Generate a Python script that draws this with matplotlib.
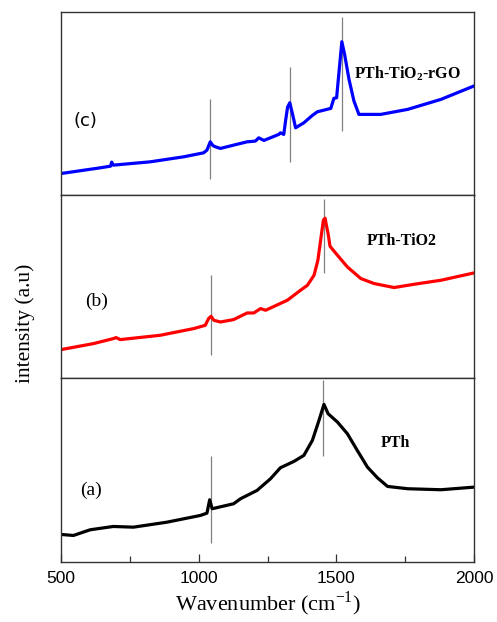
import matplotlib
matplotlib.use("Agg")
import matplotlib.pyplot as plt

plt.rcParams['mathtext.fontset'] = 'custom'
plt.rcParams['mathtext.rm'] = 'Liberation Serif:bold'
plt.rcParams['mathtext.bf'] = 'Liberation Serif:bold'

# Wavenumber (cm-1) and intensity (a.u.) for each spectrum
wn_c = [502, 642, 680, 684, 690, 824, 945, 1018, 1030, 1042, 1052, 1061, 1079, 1127, 1176, 1206,
        1218, 1237, 1291, 1297, 1309, 1316, 1323, 1331, 1344, 1352, 1382, 1413, 1431, 1480, 1491,
        1501, 1510, 1520, 1530, 1546, 1564, 1582, 1661, 1759, 1880, 1999]
int_c = [21.7, 27.3, 29, 33, 30, 33.3, 38.3, 42.3, 45, 53.3, 49.5, 48.3, 46.7, 50, 53.3, 54,
         57.3, 54.7, 60.7, 62.3, 60.7, 75, 88, 92.3, 77.3, 67.3, 72.3, 79.7, 83.3, 86.7, 96.7,
         97.3, 124, 153.3, 140.7, 115.7, 94, 80.7, 80.7, 85.7, 95.7, 109]

wn_b = [500, 618, 690, 700, 715, 860, 982, 1024, 1036, 1045, 1055, 1079, 1127, 1176, 1200, 1225,
        1243, 1322, 1346, 1370, 1395, 1419, 1433, 1443, 1453, 1459, 1466, 1470, 1477, 1504, 1540,
        1589, 1637, 1710, 1783, 1880, 2000]
int_b = [28.7, 34.7, 39.7, 40.7, 38.7, 43, 49.7, 53, 59.7, 62, 58, 56.3, 58.7, 65.3, 65.3, 69.7,
         68, 78, 83, 88, 93, 103, 118, 138, 158, 160, 150, 144.7, 132, 123, 111.3,
         99.7, 94.7, 90.7, 94, 98, 105.3]

wn_a = [502, 545, 606, 690, 763, 885, 1006, 1030, 1040, 1049, 1127, 1152, 1212, 1261, 1297, 1346,
        1382, 1413, 1437, 1455, 1470, 1504, 1540, 1576, 1613, 1649, 1686, 1759, 1880, 2000]
int_a = [27, 26, 31.7, 35, 34.3, 39.3, 46, 48.3, 61.7, 52.7, 57.7, 62.7, 71, 82.7, 93.7, 100,
         106, 121, 141, 157, 147.7, 139.3, 127.7, 111, 94.3, 83.7, 75, 72.7, 71.7, 74.3]

# Peak marker lines: position, lower and upper intensity
mark_c_x = [1040, 1330, 1519]
mark_c_lo = [16, 33, 64]
mark_c_hi = [96, 128, 178]
mark_b_x = [1043, 1454]
mark_b_lo = [23, 105]
mark_b_hi = [103, 179]
mark_a_x = [1043, 1450]
mark_a_lo = [18, 105]
mark_a_hi = [105, 181]

panel_labels = ['(c)', '(b)', '(a)']
sample_labels = [r'PTh-TiO$_{2}$-rGO', 'PTh-TiO2', 'PTh']
xticks = [500, 1000, 1500, 2000]

fig = plt.figure(figsize=(4.97, 6.22), dpi=100)
gs = fig.add_gridspec(3, 1, left=61/497, right=474/497, bottom=(622-561.5)/622,
                      top=(622-12)/622, hspace=0)
axes = [fig.add_subplot(gs[i]) for i in range(3)]

series = [(wn_c, int_c, 'blue', mark_c_x, mark_c_lo, mark_c_hi),
          (wn_b, int_b, 'red', mark_b_x, mark_b_lo, mark_b_hi),
          (wn_a, int_a, 'black', mark_a_x, mark_a_lo, mark_a_hi)]

for ax, (wx, wy, col, mx, mlo, mhi) in zip(axes, series):
    ax.vlines(mx, mlo, mhi, color='#808080', lw=0.9, zorder=1)
    ax.plot(wx, wy, color=col, lw=2.3, zorder=2, solid_joinstyle='round')
    ax.set_xlim(500, 2000)
    ax.set_ylim(0, 183)
    ax.set_yticks([])
    for s in ax.spines.values():
        s.set_color('#333333')
        s.set_linewidth(1.0)

for ax in axes[:2]:
    ax.set_xticks([])

axb = axes[2]
axb.set_xticks(xticks)
axb.set_xticks([750, 1250, 1750], minor=True)
axb.tick_params(axis='x', which='major', direction='in', length=6, width=0.9, pad=7,
                labelsize=12.5, color='#333333')
axb.tick_params(axis='x', which='minor', direction='in', length=4, width=0.9, color='#333333')
for lab in axb.get_xticklabels():
    lab.set_fontfamily('Liberation Sans')
axb.set_xlabel(r'Wavenumber (cm$^{\mathregular{-1}}$)', fontsize=16,
               fontfamily='Liberation Serif', labelpad=2)

# panel letters
axes[0].text(0.059, 0.404, panel_labels[0], transform=axes[0].transAxes, ha='center',
             va='center', fontsize=13, fontfamily='DejaVu Sans')
axes[1].text(0.086, 0.418, panel_labels[1], transform=axes[1].transAxes, ha='center',
             va='center', fontsize=14, fontfamily='Liberation Serif')
axes[2].text(0.073, 0.39, panel_labels[2], transform=axes[2].transAxes, ha='center',
             va='center', fontsize=14, fontfamily='Liberation Serif')

# sample names
axes[0].text(0.840, 0.662, sample_labels[0], transform=axes[0].transAxes, ha='center',
             va='center', fontsize=11.5, fontfamily='Liberation Serif', fontweight='bold')
axes[1].text(0.826, 0.75, sample_labels[1], transform=axes[1].transAxes, ha='center',
             va='center', fontsize=11.5, fontfamily='Liberation Serif', fontweight='bold')
axes[2].text(0.809, 0.648, sample_labels[2], transform=axes[2].transAxes, ha='center',
             va='center', fontsize=11.5, fontfamily='Liberation Serif', fontweight='bold')

fig.text(25/497, (622-323)/622, 'intensity (a.u)', rotation=90, ha='center', va='center',
         fontsize=15.5, fontfamily='Liberation Serif')

fig.savefig('out.png', dpi=100)
